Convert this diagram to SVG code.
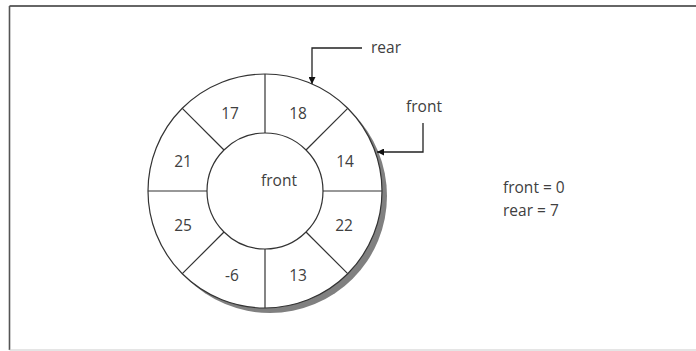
<svg xmlns="http://www.w3.org/2000/svg" width="696" height="351" viewBox="0 0 696 351">
<defs>
<style>
.t{font-family:"Open Sans","Liberation Sans",sans-serif;font-size:15.5px;fill:#404040;text-anchor:middle}
.l{fill:none;stroke:#222;stroke-width:1.3}
.c{stroke:#333;stroke-width:1.2}
</style>
<marker id="ah" viewBox="0 0 10 10" refX="10" refY="5" markerWidth="7" markerHeight="7" markerUnits="userSpaceOnUse" orient="auto">
<path d="M0,0 L10,5 L0,10 z" fill="#111"/>
</marker>
</defs>
<rect width="696" height="351" fill="#fff"/>
<g id="frame">
<line x1="9.5" y1="6" x2="696" y2="6" stroke="#333" stroke-width="1.6"/>
<line x1="9.5" y1="6" x2="9.5" y2="350" stroke="#555" stroke-width="1.6"/>
<line x1="9.5" y1="350" x2="696" y2="350" stroke="#ccc" stroke-width="1.2"/>
</g>
<g id="ring">
<circle cx="270" cy="196" r="117" fill="#808080"/>
<circle cx="265" cy="191" r="117" fill="#fff" class="c"/>
<circle cx="265" cy="191" r="58" fill="#fff" class="c"/>
<g class="c">
<line x1="265" y1="74" x2="265" y2="133"/>
<line x1="265" y1="249" x2="265" y2="308"/>
<line x1="148" y1="191" x2="207" y2="191"/>
<line x1="323" y1="191" x2="382" y2="191"/>
<line x1="182.3" y1="108.3" x2="224" y2="150"/>
<line x1="306" y1="232" x2="347.7" y2="273.7"/>
<line x1="347.7" y1="108.3" x2="306" y2="150"/>
<line x1="224" y1="232" x2="182.3" y2="273.7"/>
</g>
</g>
<g id="cells">
<text class="t" x="230" y="119">17</text>
<text class="t" x="298" y="119">18</text>
<text class="t" x="183" y="167">21</text>
<text class="t" x="345" y="167">14</text>
<text class="t" x="183" y="231">25</text>
<text class="t" x="344" y="231">22</text>
<text class="t" x="232" y="281">-6</text>
<text class="t" x="298" y="281">13</text>
<text class="t" x="279" y="186">front</text>
</g>
<g id="connectors">
<path class="l" d="M362,48 H312 V84" marker-end="url(#ah)"/>
<path class="l" d="M423,123 V152 H377" marker-end="url(#ah)"/>
</g>
<g id="labels">
<text class="t" x="386" y="53">rear</text>
<text class="t" x="424" y="112">front</text>
<text class="t" x="503" y="193" style="text-anchor:start">front = 0</text>
<text class="t" x="503" y="216" style="text-anchor:start">rear = 7</text>
</g>
</svg>
